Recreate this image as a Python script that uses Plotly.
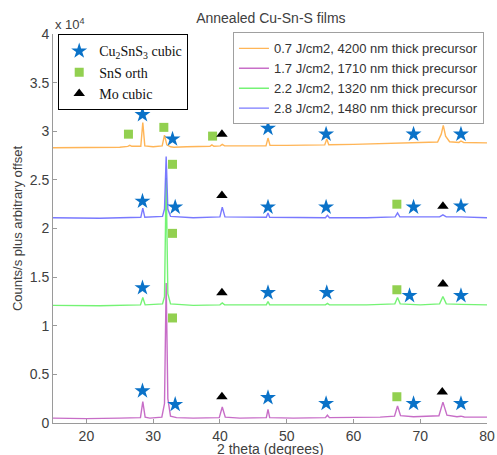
import plotly.graph_objects as go

# ---------------- data (units of 1e4 counts/s) ----------------
names = ["0.7 J/cm2, 4200 nm thick precursor",
         "1.7 J/cm2, 1710 nm thick precursor",
         "2.2 J/cm2, 1320 nm thick precursor",
         "2.8 J/cm2, 1480 nm thick precursor"]
colors = ["#ffae45", "#c25ec2", "#66f266", "#6b6bff"]

x_orange = [15, 20, 25, 26.2, 26.5, 26.8, 28.15, 28.45, 28.75, 30, 31.35, 31.7, 32.05, 32.6, 33.1, 35,
            38.5, 38.8, 39.1, 40.05, 40.35, 40.7, 44, 46.9, 47.2, 47.5, 50, 53, 55.7, 56.0, 56.3, 60,
            63, 66, 68, 72.6, 73.15, 73.45, 73.8, 74.4, 75.8, 76.1, 76.5, 80]
y_orange = [2.83, 2.83, 2.835, 2.845, 2.855, 2.845, 2.845, 3.09, 2.85, 2.84, 2.85, 2.96, 2.86, 2.84, 2.835, 2.84,
            2.845, 2.86, 2.845, 2.85, 2.865, 2.85, 2.85, 2.85, 2.93, 2.855, 2.855, 2.86, 2.86, 2.92, 2.862, 2.865,
            2.872, 2.878, 2.882, 2.89, 2.97, 3.06, 2.95, 2.892, 2.885, 2.9, 2.885, 2.88]

x_magenta = [15, 20, 25, 28.1, 28.45, 28.8, 29.5, 31.3, 31.7, 31.95, 32.2, 32.6, 33.5, 36, 39.9, 40.35,
             40.8, 43, 46.95, 47.2, 47.45, 51, 55.8, 56.1, 56.4, 60, 64, 66.15, 66.6, 67.05, 69, 72.8,
             73.4, 74.0, 75.5, 76.1, 76.6, 80]
y_magenta = [0.05, 0.045, 0.05, 0.055, 0.22, 0.06, 0.05, 0.06, 0.2, 1.44, 0.25, 0.07, 0.055, 0.05, 0.055, 0.165,
             0.06, 0.05, 0.055, 0.14, 0.055, 0.05, 0.055, 0.08, 0.055, 0.055, 0.06, 0.07, 0.175, 0.075, 0.065, 0.075,
             0.215, 0.08, 0.065, 0.07, 0.062, 0.06]

x_green = [15, 22, 28.1, 28.45, 28.8, 31.4, 31.7, 31.95, 32.2, 32.6, 36, 40.0, 40.35, 40.7, 46.95, 47.2,
           47.45, 55.8, 56.1, 56.4, 62, 66.2, 66.6, 67.0, 70, 72.9, 73.4, 73.9, 76.1, 80]
y_green = [1.21, 1.205, 1.215, 1.29, 1.215, 1.225, 1.3, 2.52, 1.33, 1.225, 1.21, 1.215, 1.235, 1.215, 1.215, 1.25,
           1.215, 1.215, 1.23, 1.215, 1.215, 1.225, 1.29, 1.225, 1.215, 1.225, 1.30, 1.225, 1.22, 1.215]

x_blue = [15, 22, 28.15, 28.45, 28.75, 31.4, 31.7, 31.95, 32.2, 32.6, 36, 40.0, 40.35, 40.75, 46.95, 47.2,
          47.45, 55.8, 56.1, 56.4, 62, 66.25, 66.6, 66.95, 72.9, 73.4, 73.9, 76.1, 80]
y_blue = [2.11, 2.105, 2.115, 2.21, 2.115, 2.125, 2.2, 2.74, 2.2, 2.125, 2.11, 2.12, 2.22, 2.12, 2.115, 2.16,
          2.115, 2.11, 2.135, 2.11, 2.11, 2.12, 2.16, 2.12, 2.12, 2.14, 2.12, 2.12, 2.11]

# phase markers
star_x = [28.4, 32.9, 47.2, 55.9, 69.0, 76.1,
          28.4, 33.3, 47.2, 55.9, 69.0, 76.1,
          28.4, 47.2, 56.0, 68.4, 76.1,
          28.4, 33.3, 47.2, 55.9, 69.0, 76.1]
star_y = [3.17, 2.92, 3.03, 2.97, 2.97, 2.97,
          2.28, 2.22, 2.22, 2.22, 2.22, 2.23,
          1.39, 1.34, 1.34, 1.31, 1.31,
          0.33, 0.19, 0.26, 0.20, 0.20, 0.20]
square_x = [26.3, 31.6, 38.9, 32.9, 66.5, 32.9, 66.5, 32.9, 66.5]
square_y = [2.97, 3.04, 2.95, 2.66, 2.25, 1.95, 1.37, 1.08, 0.27]
tri_x = [40.3, 73.3, 40.3, 73.4, 40.3, 73.4, 40.3, 73.3]
tri_y = [2.97, 3.14, 2.34, 2.23, 1.34, 1.43, 0.27, 0.32]

x_ticks = [20, 30, 40, 50, 60, 70, 80]
y_ticks = [0, 0.5, 1, 1.5, 2, 2.5, 3, 3.5, 4]
y_tick_labels = ["0", "0.5", "1", "1.5", "2", "2.5", "3", "3.5", "4"]

# ---------------- figure ----------------
fig = go.Figure()
series = [(x_orange, y_orange), (x_magenta, y_magenta), (x_green, y_green), (x_blue, y_blue)]
for (xs, ys), nm, c in zip(series, names, colors):
    fig.add_trace(go.Scatter(x=xs, y=ys, mode="lines", name=nm,
                             line=dict(color=c, width=1.4), opacity=0.9, legend="legend"))

fig.add_trace(go.Scatter(x=star_x, y=star_y, mode="markers", name="Cu<sub>2</sub>SnS<sub>3</sub> cubic",
                         marker=dict(symbol="star", size=12, color="#0a72c8", line=dict(width=0)),
                         legend="legend2"))
fig.add_trace(go.Scatter(x=square_x, y=square_y, mode="markers", name="SnS orth",
                         marker=dict(symbol="square", size=9, color="#92d050", line=dict(width=0)),
                         legend="legend2"))
fig.add_trace(go.Scatter(x=tri_x, y=tri_y, mode="markers", name="Mo cubic",
                         marker=dict(symbol="triangle-up", size=10, color="#000000", line=dict(width=0)),
                         legend="legend2"))

axis_color = "#9a9a9a"
text_color = "#404040"
fig.update_layout(
    width=497, height=455,
    margin=dict(l=53, r=10, t=34, b=32, autoexpand=False),
    paper_bgcolor="white", plot_bgcolor="white",
    font=dict(family="Liberation Sans, Arial", size=14, color=text_color),
    title=dict(text="Annealed Cu-Sn-S films", x=0.545, xanchor="center", y=0.96, yanchor="middle",
               font=dict(size=14, color=text_color)),
    xaxis=dict(range=[15, 80], tickvals=x_ticks, ticks="inside", ticklen=4, tickcolor=axis_color,
               showline=True, linecolor=axis_color, linewidth=1, showgrid=False, zeroline=False,
               tickfont=dict(size=14), automargin=False),
    yaxis=dict(range=[0, 4], tickvals=y_ticks, ticktext=y_tick_labels, ticks="inside", ticklen=4,
               tickcolor=axis_color, showline=True, linecolor=axis_color, linewidth=1,
               showgrid=False, zeroline=False, automargin=False,
               title=dict(text="Counts/s plus arbitrary offset", standoff=4, font=dict(size=13)),
               tickfont=dict(size=14)),
    legend=dict(x=0.993, xanchor="right", y=1.004, yanchor="top", bgcolor="white",
                bordercolor="#a0a0a0", borderwidth=1, font=dict(size=13, color="#333333"),
                tracegroupgap=0),
    legend2=dict(x=0.012, xanchor="left", y=0.999, yanchor="top", bgcolor="white",
                 bordercolor="#000000", borderwidth=1,
                 font=dict(family="Liberation Serif, Times New Roman", size=14, color="#111111")),
    annotations=[dict(text="x 10<sup>4</sup>", xref="paper", yref="paper", x=0.0, y=1.0,
                      xanchor="left", yanchor="bottom", showarrow=False,
                      font=dict(size=13, color=text_color)),
                 dict(text="2 theta (degrees)", xref="paper", yref="paper", x=0.5, y=-0.066,
                      xanchor="center", yanchor="middle", showarrow=False,
                      font=dict(size=14, color=text_color))],
)

fig.write_html("out.html", config={"displayModeBar": False},
               post_script="document.body.style.margin='0';document.body.style.overflow='hidden';")
